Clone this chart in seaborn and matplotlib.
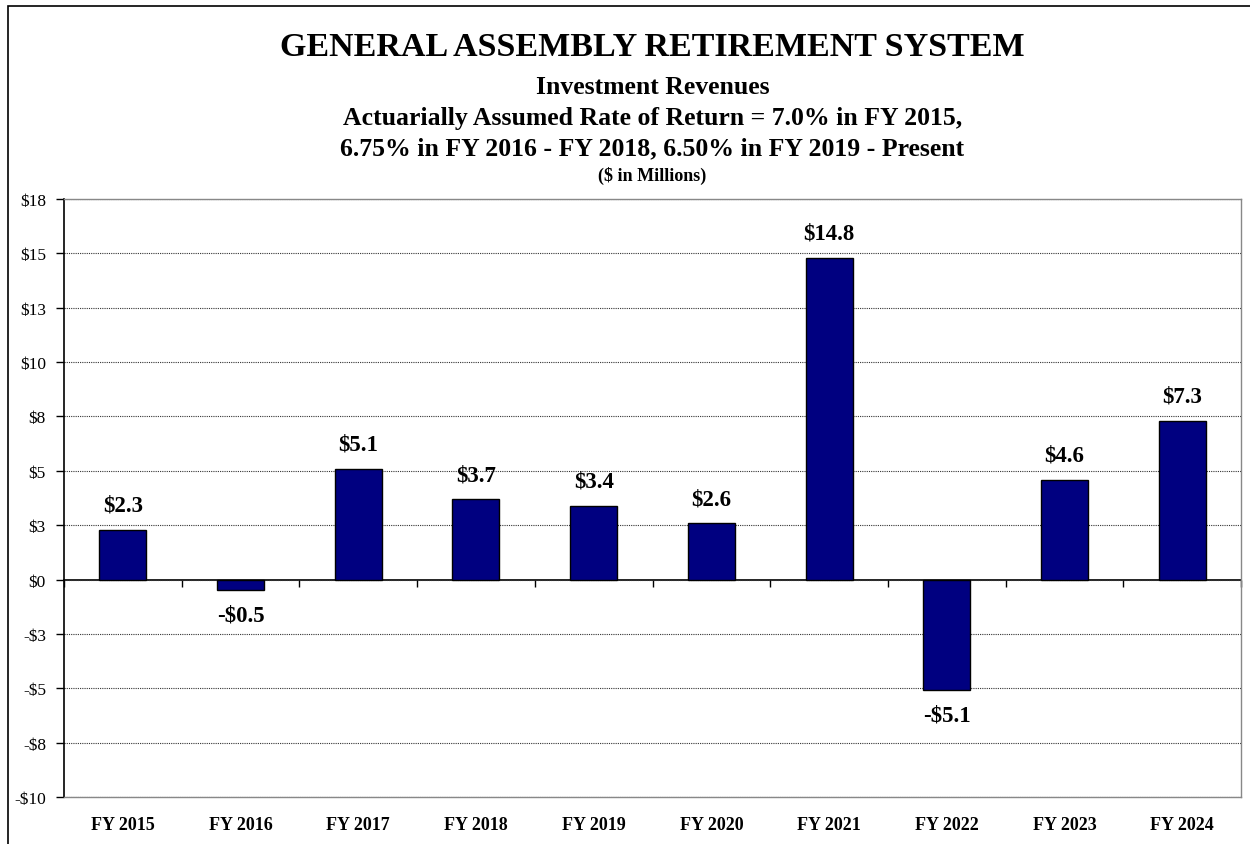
import math
import matplotlib
matplotlib.use("Agg")
import matplotlib.pyplot as plt
from matplotlib.patches import Rectangle
import seaborn as sns
import pandas as pd
import numpy as np

categories = ["FY 2015", "FY 2016", "FY 2017", "FY 2018", "FY 2019",
              "FY 2020", "FY 2021", "FY 2022", "FY 2023", "FY 2024"]
values = [2.3, -0.5, 5.1, 3.7, 3.4, 2.6, 14.8, -5.1, 4.6, 7.3]
y_ticks = [-10, -7.5, -5, -2.5, 0, 2.5, 5, 7.5, 10, 12.5, 15, 17.5]

title = "GENERAL ASSEMBLY RETIREMENT SYSTEM"
subtitles = ["Investment Revenues",
             "Actuarially Assumed Rate of Return = 7.0% in FY 2015,",
             "6.75% in FY 2016 - FY 2018, 6.50% in FY 2019 - Present"]
units = "($ in Millions)"

sns.set_style("white")
plt.rcParams["font.family"] = ["Liberation Serif", "DejaVu Serif"]
plt.rcParams["text.color"] = "black"
plt.rcParams["xtick.color"] = "black"
plt.rcParams["ytick.color"] = "black"
plt.rcParams["axes.labelcolor"] = "black"

W, H = 1250, 845
fig = plt.figure(figsize=(W / 100, H / 100), dpi=100)
ax = fig.add_axes([64 / W, 1 - 798 / H, (1241 - 64) / W, (798 - 200) / H])

df = pd.DataFrame({"cat": categories, "val": values})
sns.barplot(data=df, x="cat", y="val", color="#000080", edgecolor="black",
            linewidth=1.0, width=0.4, saturation=1, ax=ax)

ax.set_ylim(min(y_ticks), max(y_ticks))
ax.set_xlim(-0.5, len(categories) - 0.5)


def money(v):
    r = math.floor(abs(v) + 0.5)
    return ("-$" if v < 0 else "$") + f"{r:d}"


ax.set_yticks(y_ticks)
ax.set_yticklabels([money(v) for v in y_ticks], fontsize=12.5, color="black")
ax.tick_params(axis="y", direction="out", length=6, width=1, color="black", pad=7, left=True)
ax.set_xticks(range(len(categories)))
ax.set_xticklabels(categories, fontsize=13, fontweight="bold", color="black")
ax.tick_params(axis="x", length=0, pad=14)
ax.set_xlabel("")
ax.set_ylabel("")

ax.yaxis.grid(True, linestyle=(0, (1, 1)), color="#333333", linewidth=0.8)
ax.set_axisbelow(True)

for side in ["top", "right", "bottom"]:
    ax.spines[side].set_visible(True)
    ax.spines[side].set_color("#888888")
    ax.spines[side].set_linewidth(1.0)
ax.spines["left"].set_color("black")
ax.spines["left"].set_linewidth(1.2)

# category axis crossing at zero, with tick marks between categories
ymin, ymax = ax.get_ylim()
loc = (0 - ymin) / (ymax - ymin)
sec = ax.secondary_xaxis(loc)
sec.set_xticks(np.arange(len(categories) + 1) - 0.5)
sec.set_xticklabels([])
sec.tick_params(direction="out", length=5, width=1, color="black")
sec.spines["bottom"].set_color("black")
sec.spines["bottom"].set_linewidth(1.2)

labels = [("-$" if v < 0 else "$") + f"{abs(v):.1f}" for v in values]
ax.bar_label(ax.containers[0], labels=labels, padding=10,
             fontsize=16.5, fontweight="bold", color="black")

cx = (64 + 1241) / 2 / W
fig.text(cx, 1 - 48 / H, title, ha="center", va="center", fontsize=24.5,
         fontweight="bold", color="black")
for yy, s in zip([87, 118, 149], subtitles):
    fig.text(cx, 1 - yy / H, s, ha="center", va="center", fontsize=18.5,
             fontweight="bold", color="black")
fig.text(cx, 1 - 176 / H, units, ha="center", va="center", fontsize=13,
         fontweight="bold", color="black")

fig.patches.append(Rectangle((8 / W, -0.05), 1.2, 1 - 7 / H + 0.05,
                             transform=fig.transFigure, fill=False,
                             edgecolor="black", linewidth=1.2))

fig.savefig("out.png", dpi=100)
